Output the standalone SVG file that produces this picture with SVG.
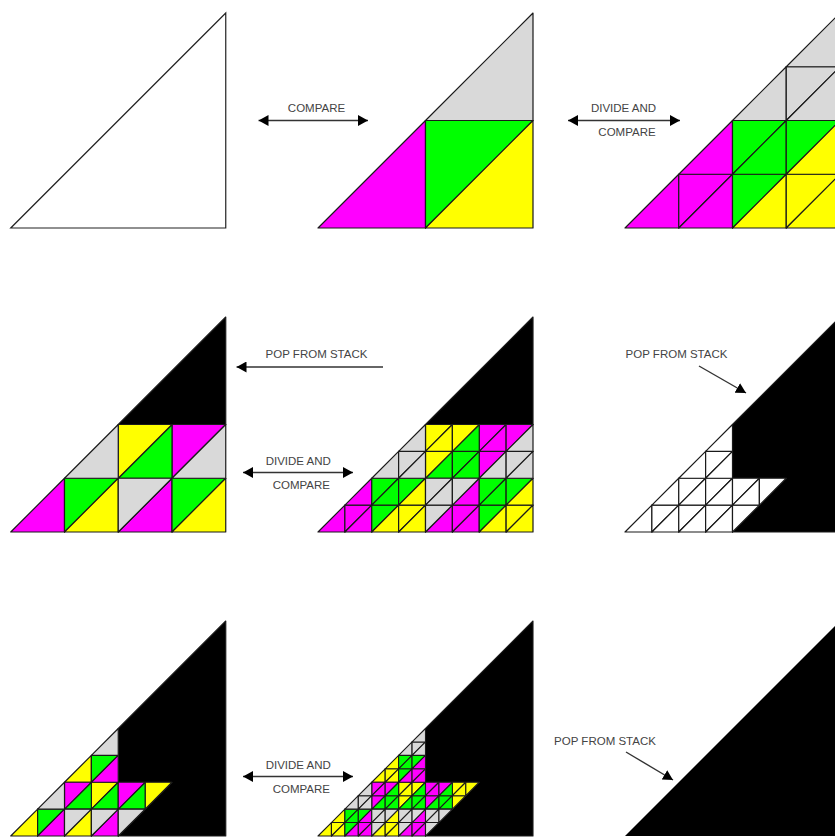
<svg xmlns="http://www.w3.org/2000/svg" width="835" height="838" viewBox="0 0 835 838">
<style>
.cells use, .cells polygon{stroke:#1a1a1a;stroke-linejoin:round}
.m{fill:#ff00ff}.g{fill:#00ff00}.y{fill:#ffff00}.e{fill:#d9d9d9}.w{fill:#ffffff}.k{fill:#000000}
text{font-family:"Liberation Sans",Arial,sans-serif;font-size:11.5px;fill:#444444;text-anchor:middle}
.arr{stroke:#333333;stroke-width:1.4;fill:none}
</style>
<defs>
<path id="L" d="M0,0 H1 V-1 Z"/>
<path id="U" d="M0,0 V-1 H1 Z"/>
<marker id="ah" viewBox="0 0 10 11" refX="10" refY="5.5" markerWidth="10" markerHeight="11" markerUnits="userSpaceOnUse" orient="auto-start-reverse">
<path d="M0,0 L10,5.5 L0,11 Z" fill="#000"/>
</marker>
</defs>

<g id="panel-1">
<polygon points="10.75,228 225.75,228 225.75,13" fill="#fff" stroke="#222" stroke-width="1.2"/>
</g>

<g id="panel-2" class="cells" transform="translate(318,228) scale(107.5)" stroke-width="0.0112">
<use href="#L" class="m"/>
<use href="#L" x="1" y="-1" class="e"/>
<use href="#U" x="1" class="g"/>
<use href="#L" x="1" class="y"/>
</g>

<g id="panel-3" class="cells" transform="translate(625,228) scale(53.75)" stroke-width="0.0223">
<g class="m"><use href="#L"/><use href="#U" x="1"/><use href="#L" x="1"/><use href="#L" x="1" y="-1"/></g>
<g class="e"><use href="#L" x="2" y="-2"/><use href="#U" x="3" y="-2"/><use href="#L" x="3" y="-2"/><use href="#L" x="3" y="-3"/></g>
<g class="g"><use href="#U" x="2"/><use href="#U" x="2" y="-1"/><use href="#L" x="2" y="-1"/><use href="#U" x="3" y="-1"/></g>
<g class="y"><use href="#L" x="2"/><use href="#U" x="3"/><use href="#L" x="3"/><use href="#L" x="3" y="-1"/></g>
</g>

<g id="panel-4" class="cells" transform="translate(10.75,532) scale(53.75)" stroke-width="0.0223">
<polygon class="k" points="2,-2 4,-2 4,-4"/>
<g class="m"><use href="#L"/><use href="#L" x="2"/><use href="#U" x="3" y="-1"/></g>
<g class="g"><use href="#U" x="1"/><use href="#L" x="2" y="-1"/><use href="#U" x="3"/></g>
<g class="y"><use href="#L" x="1"/><use href="#U" x="2" y="-1"/><use href="#L" x="3"/></g>
<g class="e"><use href="#L" x="1" y="-1"/><use href="#U" x="2"/><use href="#L" x="3" y="-1"/></g>
</g>

<g id="panel-5" class="cells" transform="translate(318,532) scale(26.875)" stroke-width="0.0446">
<polygon class="k" points="4,-4 8,-4 8,-8"/>
<g class="m">
<use href="#L"/><use href="#U" x="1"/><use href="#L" x="1"/><use href="#L" x="1" y="-1"/>
<use href="#L" x="4"/><use href="#U" x="5"/><use href="#L" x="5"/><use href="#L" x="5" y="-1"/>
<use href="#U" x="6" y="-2"/><use href="#U" x="6" y="-3"/><use href="#L" x="6" y="-3"/><use href="#U" x="7" y="-3"/>
</g>
<g class="g">
<use href="#U" x="2"/><use href="#U" x="2" y="-1"/><use href="#L" x="2" y="-1"/><use href="#U" x="3" y="-1"/>
<use href="#L" x="4" y="-2"/><use href="#U" x="5" y="-2"/><use href="#L" x="5" y="-2"/><use href="#L" x="5" y="-3"/>
<use href="#U" x="6"/><use href="#U" x="6" y="-1"/><use href="#L" x="6" y="-1"/><use href="#U" x="7" y="-1"/>
</g>
<g class="y">
<use href="#L" x="2"/><use href="#U" x="3"/><use href="#L" x="3"/><use href="#L" x="3" y="-1"/>
<use href="#U" x="4" y="-2"/><use href="#U" x="4" y="-3"/><use href="#L" x="4" y="-3"/><use href="#U" x="5" y="-3"/>
<use href="#L" x="6"/><use href="#U" x="7"/><use href="#L" x="7"/><use href="#L" x="7" y="-1"/>
</g>
<g class="e">
<use href="#L" x="2" y="-2"/><use href="#U" x="3" y="-2"/><use href="#L" x="3" y="-2"/><use href="#L" x="3" y="-3"/>
<use href="#U" x="4"/><use href="#U" x="4" y="-1"/><use href="#L" x="4" y="-1"/><use href="#U" x="5" y="-1"/>
<use href="#L" x="6" y="-2"/><use href="#U" x="7" y="-2"/><use href="#L" x="7" y="-2"/><use href="#L" x="7" y="-3"/>
</g>
</g>

<g id="panel-6" class="cells" transform="translate(625,532) scale(26.875)" stroke-width="0.0446">
<polygon class="k" points="4,0 8,0 8,-8 4,-4 4,-2 6,-2"/>
<g class="w">
<use href="#L"/><use href="#U" x="1"/><use href="#L" x="1"/><use href="#L" x="1" y="-1"/>
<use href="#U" x="2"/><use href="#U" x="2" y="-1"/><use href="#L" x="2" y="-1"/><use href="#U" x="3" y="-1"/>
<use href="#L" x="2"/><use href="#U" x="3"/><use href="#L" x="3"/><use href="#L" x="3" y="-1"/>
<use href="#L" x="2" y="-2"/><use href="#U" x="3" y="-2"/><use href="#L" x="3" y="-2"/><use href="#L" x="3" y="-3"/>
<use href="#U" x="4"/><use href="#U" x="4" y="-1"/><use href="#L" x="4" y="-1"/><use href="#U" x="5" y="-1"/>
</g>
</g>

<g id="panel-7" class="cells" transform="translate(10.75,836) scale(26.875)" stroke-width="0.0446">
<polygon class="k" points="4,0 8,0 8,-8 4,-4 4,-2 6,-2"/>
<g class="y"><use href="#L"/><use href="#L" x="2"/><use href="#L" x="2" y="-2"/><use href="#U" x="3" y="-1"/><use href="#U" x="5" y="-1"/></g>
<g class="g"><use href="#U" x="1"/><use href="#L" x="2" y="-1"/><use href="#L" x="3" y="-1"/><use href="#U" x="3" y="-2"/><use href="#L" x="4" y="-1"/></g>
<g class="m"><use href="#L" x="1"/><use href="#U" x="2" y="-1"/><use href="#L" x="3"/><use href="#L" x="3" y="-2"/><use href="#U" x="4" y="-1"/></g>
<g class="e"><use href="#L" x="1" y="-1"/><use href="#U" x="2"/><use href="#U" x="3"/><use href="#L" x="3" y="-3"/><use href="#U" x="4"/></g>
</g>

<g id="panel-8" class="cells" transform="translate(318,836) scale(13.4375)" stroke-width="0.082">
<polygon class="k" points="8,0 16,0 16,-16 8,-8 8,-4 12,-4"/>
<g class="y">
<use href="#L"/><use href="#U" x="1"/><use href="#L" x="1"/><use href="#L" x="1" y="-1"/>
<use href="#L" x="4"/><use href="#U" x="5"/><use href="#L" x="5"/><use href="#L" x="5" y="-1"/>
<use href="#U" x="6" y="-2"/><use href="#U" x="6" y="-3"/><use href="#L" x="6" y="-3"/><use href="#U" x="7" y="-3"/>
<use href="#L" x="4" y="-4"/><use href="#U" x="5" y="-4"/><use href="#L" x="5" y="-4"/><use href="#L" x="5" y="-5"/>
<use href="#U" x="10" y="-2"/><use href="#U" x="10" y="-3"/><use href="#L" x="10" y="-3"/><use href="#U" x="11" y="-3"/>
</g>
<g class="g">
<use href="#U" x="2"/><use href="#U" x="2" y="-1"/><use href="#L" x="2" y="-1"/><use href="#U" x="3" y="-1"/>
<use href="#L" x="4" y="-2"/><use href="#U" x="5" y="-2"/><use href="#L" x="5" y="-2"/><use href="#L" x="5" y="-3"/>
<use href="#L" x="6" y="-2"/><use href="#U" x="7" y="-2"/><use href="#L" x="7" y="-2"/><use href="#L" x="7" y="-3"/>
<use href="#U" x="6" y="-4"/><use href="#U" x="6" y="-5"/><use href="#L" x="6" y="-5"/><use href="#U" x="7" y="-5"/>
<use href="#L" x="8" y="-2"/><use href="#U" x="9" y="-2"/><use href="#L" x="9" y="-2"/><use href="#L" x="9" y="-3"/>
</g>
<g class="m">
<use href="#L" x="2"/><use href="#U" x="3"/><use href="#L" x="3"/><use href="#L" x="3" y="-1"/>
<use href="#U" x="4" y="-2"/><use href="#U" x="4" y="-3"/><use href="#L" x="4" y="-3"/><use href="#U" x="5" y="-3"/>
<use href="#L" x="6"/><use href="#U" x="7"/><use href="#L" x="7"/><use href="#L" x="7" y="-1"/>
<use href="#L" x="6" y="-4"/><use href="#U" x="7" y="-4"/><use href="#L" x="7" y="-4"/><use href="#L" x="7" y="-5"/>
<use href="#U" x="8" y="-2"/><use href="#U" x="8" y="-3"/><use href="#L" x="8" y="-3"/><use href="#U" x="9" y="-3"/>
</g>
<g class="e">
<use href="#L" x="2" y="-2"/><use href="#U" x="3" y="-2"/><use href="#L" x="3" y="-2"/><use href="#L" x="3" y="-3"/>
<use href="#U" x="4"/><use href="#U" x="4" y="-1"/><use href="#L" x="4" y="-1"/><use href="#U" x="5" y="-1"/>
<use href="#U" x="6"/><use href="#U" x="6" y="-1"/><use href="#L" x="6" y="-1"/><use href="#U" x="7" y="-1"/>
<use href="#L" x="6" y="-6"/><use href="#U" x="7" y="-6"/><use href="#L" x="7" y="-6"/><use href="#L" x="7" y="-7"/>
<use href="#U" x="8"/><use href="#U" x="8" y="-1"/><use href="#L" x="8" y="-1"/><use href="#U" x="9" y="-1"/>
</g>
</g>

<g id="panel-9">
<polygon points="625,836 840,836 840,621" fill="#000"/>
</g>

<g id="labels">
<text x="316.5" y="112">COMPARE</text>
<text x="623.5" y="112">DIVIDE AND</text>
<text x="627" y="136">COMPARE</text>
<text x="316.5" y="358">POP FROM STACK</text>
<text x="676.5" y="358">POP FROM STACK</text>
<text x="298.3" y="465">DIVIDE AND</text>
<text x="301.3" y="489">COMPARE</text>
<text x="298.3" y="769">DIVIDE AND</text>
<text x="301.3" y="793">COMPARE</text>
<text x="605" y="745">POP FROM STACK</text>
</g>

<g id="connectors" class="arr">
<line x1="258.5" y1="120.5" x2="368" y2="120.5" marker-start="url(#ah)" marker-end="url(#ah)"/>
<line x1="568" y1="120.5" x2="680" y2="120.5" marker-start="url(#ah)" marker-end="url(#ah)"/>
<line x1="383" y1="367" x2="236.5" y2="367" marker-end="url(#ah)"/>
<line x1="243" y1="472.5" x2="353" y2="472.5" marker-start="url(#ah)" marker-end="url(#ah)"/>
<line x1="699" y1="366" x2="746" y2="393" marker-end="url(#ah)"/>
<line x1="243" y1="776.5" x2="353" y2="776.5" marker-start="url(#ah)" marker-end="url(#ah)"/>
<line x1="626" y1="752" x2="673" y2="780" marker-end="url(#ah)"/>
</g>
</svg>
